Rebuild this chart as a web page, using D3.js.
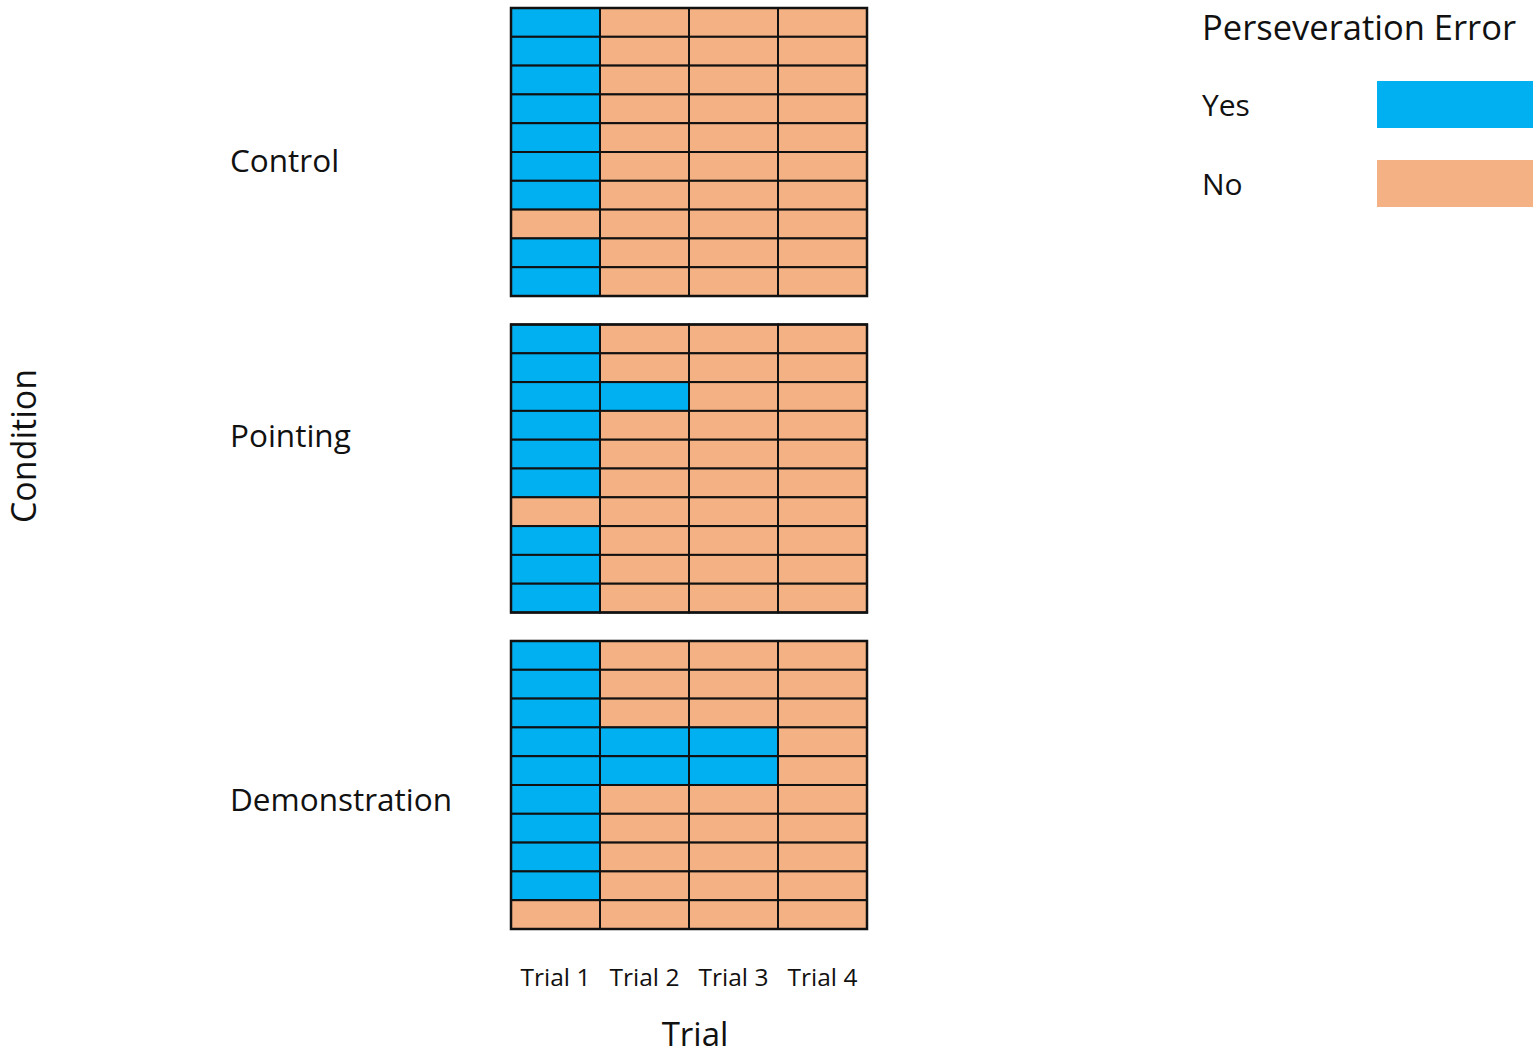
<!DOCTYPE html>
<html>
<head>
<meta charset="utf-8">
<script src="https://cdn.jsdelivr.net/npm/d3@7"></script>
<style>
  body { margin: 0; background: #fff; }
  text { font-family: "Open Sans", "Noto Sans", sans-serif; fill: #111; }
</style>
</head>
<body>
<div class="wrap"></div>
<script>
const conditions = ["Control", "Pointing", "Demonstration"]
const trials = ["Trial 1", "Trial 2", "Trial 3", "Trial 4"]
const participants = d3.range(1, 11)

// 1 = perseveration error, 0 = none; one row per child, one column per trial
const control = [
  [1,0,0,0],[1,0,0,0],[1,0,0,0],[1,0,0,0],[1,0,0,0],
  [1,0,0,0],[1,0,0,0],[0,0,0,0],[1,0,0,0],[1,0,0,0]
]
const pointing = [
  [1,0,0,0],[1,0,0,0],[1,1,0,0],[1,0,0,0],[1,0,0,0],
  [1,0,0,0],[0,0,0,0],[1,0,0,0],[1,0,0,0],[1,0,0,0]
]
const demonstration = [
  [1,0,0,0],[1,0,0,0],[1,0,0,0],[1,1,1,0],[1,1,1,0],
  [1,0,0,0],[1,0,0,0],[1,0,0,0],[1,0,0,0],[0,0,0,0]
]
const legendLabels = ["Yes", "No"]

const grids = [control, pointing, demonstration]
const labelY = [161, 436, 800]

let width = 1540, height = 1055

let svg = d3.select(".wrap")
.append("svg")
.attr("width", width)
.attr("height", height)

let color = d3.scaleOrdinal()
.domain([1, 0])
.range(["#00b0f0", "#f4b183"])

let x = d3.scaleBand()
.domain(trials)
.range([511, 867])

let panelY = d3.scaleBand()
.domain(conditions)
.range([8, 929])
.paddingInner(0.09)

conditions.forEach((c, ci) => {
  let y = d3.scaleBand()
  .domain(participants)
  .range([panelY(c), panelY(c) + panelY.bandwidth()])

  let cells = []
  grids[ci].forEach((row, ri) => row.forEach((v, ti) => {
    cells.push({ p: participants[ri], t: trials[ti], v: v })
  }))

  let g = svg.append("g")

  g.selectAll("rect")
  .data(cells)
  .enter()
  .append("rect")
  .attr("x", d => x(d.t))
  .attr("y", d => y(d.p))
  .attr("width", x.bandwidth())
  .attr("height", y.bandwidth())
  .style("fill", d => color(d.v))
  .style("stroke", "#111")
  .style("stroke-width", 2)

  g.append("rect")
  .attr("x", x.range()[0])
  .attr("y", y.range()[0])
  .attr("width", x.range()[1] - x.range()[0])
  .attr("height", y.range()[1] - y.range()[0])
  .style("fill", "none")
  .style("stroke", "#111")
  .style("stroke-width", 2.5)

  svg.append("text")
  .attr("x", 230)
  .attr("y", labelY[ci])
  .attr("dy", "0.35em")
  .style("font-size", "31.5px")
  .text(c)
})

// trial labels
svg.selectAll(".tick-label")
.data(trials)
.enter()
.append("text")
.attr("class", "tick-label")
.attr("x", d => x(d) + x.bandwidth() / 2)
.attr("y", 977)
.attr("dy", "0.35em")
.attr("text-anchor", "middle")
.style("font-size", "24.5px")
.text(d => d)

svg.append("text")
.attr("x", 695)
.attr("y", 1034)
.attr("dy", "0.35em")
.attr("text-anchor", "middle")
.style("font-size", "33px")
.text("Trial")

svg.append("text")
.attr("transform", "translate(24,446) rotate(-90)")
.attr("dy", "0.35em")
.attr("text-anchor", "middle")
.style("font-size", "34px")
.text("Condition")

// legend
let legend = svg.append("g")

legend.append("text")
.attr("x", 1202)
.attr("y", 28)
.attr("dy", "0.35em")
.style("font-size", "34.5px")
.text("Perseveration Error")

let ly = d3.scaleBand()
.domain(legendLabels)
.range([81, 207])
.paddingInner(0.405)

legendLabels.forEach((l, i) => {
  legend.append("rect")
  .attr("x", 1377)
  .attr("y", ly(l))
  .attr("width", 156)
  .attr("height", ly.bandwidth())
  .style("fill", color(1 - i))

  legend.append("text")
  .attr("x", 1202)
  .attr("y", ly(l) + ly.bandwidth() / 2 + 1)
  .attr("dy", "0.35em")
  .style("font-size", "30px")
  .text(l)
})
</script>
</body>
</html>
